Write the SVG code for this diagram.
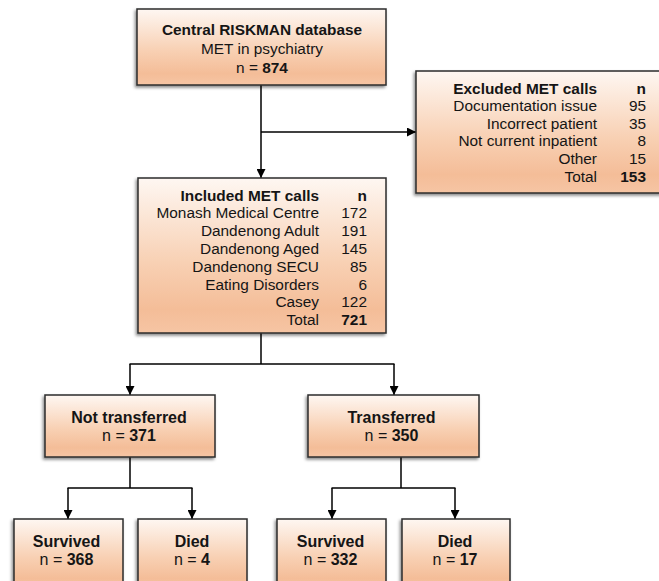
<svg xmlns="http://www.w3.org/2000/svg" width="659" height="581" viewBox="0 0 659 581">
<defs>
<linearGradient id="fill" x1="0" y1="0" x2="0" y2="1">
<stop offset="0" stop-color="#fef7f2"/>
<stop offset="0.55" stop-color="#f8d0b3"/>
<stop offset="0.85" stop-color="#f4bd98"/>
<stop offset="1" stop-color="#f6c5a4"/>
</linearGradient>
<filter id="sh" x="-10%" y="-10%" width="120%" height="130%">
<feDropShadow dx="-1.5" dy="2" stdDeviation="1.8" flood-color="#000" flood-opacity="0.45"/>
</filter>
<marker id="arr" viewBox="0 0 10 10" refX="10" refY="5" markerWidth="9" markerHeight="9" markerUnits="userSpaceOnUse" orient="auto">
<path d="M0,0 L10,5 L0,10 z" fill="#000"/>
</marker>
</defs>
<style>
.box{fill:url(#fill);stroke:#2b2b2b;stroke-width:1.5;filter:url(#sh)}
text{font-family:"Liberation Sans",Arial,sans-serif;font-size:15.4px;fill:#151515}
.lg{font-size:16px}
.b{font-weight:bold}
.c{text-anchor:middle}
.r{text-anchor:end}
.ln{fill:none;stroke:#000;stroke-width:1.5}
.ar{marker-end:url(#arr)}
</style>
<rect width="659" height="581" fill="#fff"/>

<g id="connectors">
<path class="ln ar" d="M261 85 V178"/>
<path class="ln ar" d="M261 132 H416"/>
<path class="ln" d="M261 333 V364"/>
<path class="ln" d="M129.5 364 H394.5"/>
<path class="ln ar" d="M130 364 V395"/>
<path class="ln ar" d="M394 364 V395"/>
<path class="ln" d="M130 457 V488"/>
<path class="ln" d="M67.5 488 H192.5"/>
<path class="ln ar" d="M68 488 V519"/>
<path class="ln ar" d="M192 488 V519"/>
<path class="ln" d="M401 457 V488"/>
<path class="ln" d="M331.5 488 H455.5"/>
<path class="ln ar" d="M332 488 V519"/>
<path class="ln ar" d="M455 488 V519"/>
</g>

<g id="central">
<rect class="box" x="137" y="9" width="249" height="76"/>
<text class="b c" x="262" y="35">Central RISKMAN database</text>
<text class="c" x="262" y="54">MET in psychiatry</text>
<text class="c" x="262" y="73">n = <tspan class="b">874</tspan></text>
</g>

<g id="excluded">
<rect class="box" x="416" y="71" width="250" height="122"/>
<text class="b r" x="597" y="93.5">Excluded MET calls</text>
<text class="b r" x="646" y="93.5">n</text>
<text class="r" x="597" y="111.2">Documentation issue</text>
<text class="r" x="646" y="111.2">95</text>
<text class="r" x="597" y="128.8">Incorrect patient</text>
<text class="r" x="646" y="128.8">35</text>
<text class="r" x="597" y="146.4">Not current inpatient</text>
<text class="r" x="646" y="146.4">8</text>
<text class="r" x="597" y="164">Other</text>
<text class="r" x="646" y="164">15</text>
<text class="r" x="597" y="181.6">Total</text>
<text class="b r" x="646" y="181.6">153</text>
</g>

<g id="included">
<rect class="box" x="138" y="178" width="248" height="155"/>
<text class="b r" x="319" y="200.5">Included MET calls</text>
<text class="b r" x="367" y="200.5">n</text>
<text class="r" x="319" y="218.3">Monash Medical Centre</text>
<text class="r" x="367" y="218.3">172</text>
<text class="r" x="319" y="236.1">Dandenong Adult</text>
<text class="r" x="367" y="236.1">191</text>
<text class="r" x="319" y="253.9">Dandenong Aged</text>
<text class="r" x="367" y="253.9">145</text>
<text class="r" x="319" y="271.7">Dandenong SECU</text>
<text class="r" x="367" y="271.7">85</text>
<text class="r" x="319" y="289.5">Eating Disorders</text>
<text class="r" x="367" y="289.5">6</text>
<text class="r" x="319" y="307.3">Casey</text>
<text class="r" x="367" y="307.3">122</text>
<text class="r" x="319" y="325.1">Total</text>
<text class="b r" x="367" y="325.1">721</text>
</g>

<g id="not-transferred">
<rect class="box" x="45" y="395" width="170" height="62"/>
<text class="b c lg" x="129" y="423">Not transferred</text>
<text class="c lg" x="129" y="441">n = <tspan class="b">371</tspan></text>
</g>

<g id="transferred">
<rect class="box" x="308" y="395" width="171" height="62"/>
<text class="b c lg" x="391.5" y="423">Transferred</text>
<text class="c lg" x="391.5" y="441">n = <tspan class="b">350</tspan></text>
</g>

<g id="nt-survived">
<rect class="box" x="14" y="519" width="109" height="70"/>
<text class="b c lg" x="66.5" y="547">Survived</text>
<text class="c lg" x="66.5" y="565">n = <tspan class="b">368</tspan></text>
</g>

<g id="nt-died">
<rect class="box" x="138" y="519" width="109" height="70"/>
<text class="b c lg" x="192" y="547">Died</text>
<text class="c lg" x="192" y="565">n = <tspan class="b">4</tspan></text>
</g>

<g id="t-survived">
<rect class="box" x="277" y="519" width="109" height="70"/>
<text class="b c lg" x="330.5" y="547">Survived</text>
<text class="c lg" x="330.5" y="565">n = <tspan class="b">332</tspan></text>
</g>

<g id="t-died">
<rect class="box" x="402" y="519" width="108" height="70"/>
<text class="b c lg" x="455" y="547">Died</text>
<text class="c lg" x="455" y="565">n = <tspan class="b">17</tspan></text>
</g>
</svg>
